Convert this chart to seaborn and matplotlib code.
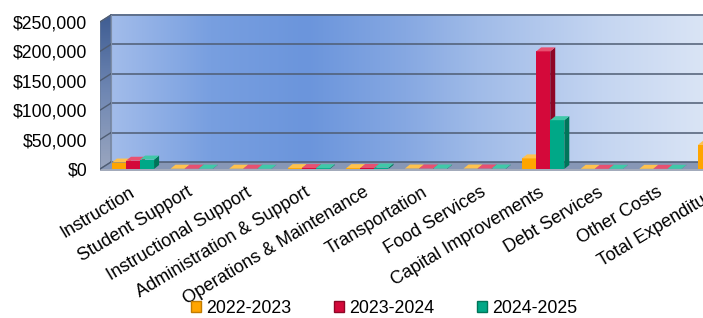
import numpy as np
import pandas as pd
import matplotlib
matplotlib.use("Agg")
import matplotlib.pyplot as plt
import seaborn as sns
from matplotlib.patches import Polygon, Patch, Rectangle
from matplotlib.colors import LinearSegmentedColormap, to_rgb

# data
categories = ['Instruction', 'Student Support', 'Instructional Support',
              'Administration & Support', 'Operations & Maintenance',
              'Transportation', 'Food Services', 'Capital Improvements',
              'Debt Services', 'Other Costs', 'Total Expenditure']
years = ['2022-2023', '2023-2024', '2024-2025']
fy_2022 = [11000, 500, 500, 1500, 1500, 800, 800, 18000, 300, 300, 41000]
fy_2023 = [14000, 500, 500, 1500, 1800, 800, 800, 200000, 300, 300, 232000]
fy_2024 = [16000, 500, 400, 1300, 2500, 800, 800, 83000, 300, 300, 105000]
yticks = [0, 50000, 100000, 150000, 200000, 250000]

colors = ['#FFA500', '#D4093A', '#00A887']
sides = ['#C27C00', '#8E0626', '#007559']
tops = ['#FFC24D', '#E85070', '#40C8A8']

df = pd.DataFrame({
    'Category': categories * 3,
    'Year': [y for y in years for _ in categories],
    'Amount': fy_2022 + fy_2023 + fy_2024,
})

plt.rcParams['font.family'] = ['Liberation Sans', 'DejaVu Sans']
fig = plt.figure(figsize=(7.03, 3.18), dpi=100)
W, H = 703, 318

# axes: left wall front edge at x=100px, category spacing ~58.6px, runs off the right edge
xmin, xmax = -0.563, 10.6
cat_px = 58.6
ax_left = 100
ax_w = (xmax - xmin) * cat_px
s = 1700.0  # value per pixel
ylo, yhi = -3400, 266000
ax_bottom_px = 171
ax_h = (yhi - ylo) / s
ax = fig.add_axes([ax_left / W, (H - ax_bottom_px) / H, ax_w / W, ax_h / H])
ax.set_facecolor('none')

# depth offsets (pixels -> data)
dxb, dyb = 11 / cat_px, 7 * s
dxs, dys = 5 / cat_px, 4 * s

# back wall gradient
cmap = LinearSegmentedColormap.from_list('wall', [
    (0.0, '#a2bcea'), (0.15, '#789fe0'), (0.3, '#6b95dc'), (0.45, '#86a8e2'),
    (0.56, '#a0bbe8'), (0.75, '#c4d5f1'), (0.9, '#d9e4f5'), (1.0, '#e2eaf7')])
grad = np.linspace(0, 1, 256).reshape(1, -1)
ax.imshow(grad, cmap=cmap, aspect='auto', zorder=0,
          extent=[xmin + dxb, xmax + dxb, dyb, 250000 + dyb])

# left side wall (vertical gradient, clipped)
side_poly = Polygon([(xmin, 0), (xmin + dxb, dyb), (xmin + dxb, 250000 + dyb), (xmin, 250000)],
                    closed=True, facecolor='none', edgecolor='#6b7d99', lw=0.8, zorder=1.2)
ax.add_patch(side_poly)
side_cmap = LinearSegmentedColormap.from_list('side', ['#9aa6bf', '#6f87b3', '#3e5c92'])
vgrad = np.linspace(0, 1, 256).reshape(-1, 1)
im = ax.imshow(vgrad, cmap=side_cmap, aspect='auto', origin='lower', zorder=1,
               extent=[xmin, xmin + dxb, 0, 250000 + dyb])
im.set_clip_path(side_poly)

# floor
ax.add_patch(Polygon([(xmin, 0), (xmax, 0), (xmax + dxb, dyb), (xmin + dxb, dyb)],
                     closed=True, facecolor='#8797b6', edgecolor='none', zorder=1))
ax.add_patch(Rectangle((xmin, -2600), xmax - xmin, 2600, facecolor='#a3abbb',
                       edgecolor='none', zorder=1))

# gridlines on back and side walls
for v in yticks:
    ax.plot([xmin + dxb, xmax + dxb], [v + dyb, v + dyb], color='#4f5d73', lw=1.1, zorder=1.5)
    ax.plot([xmin, xmin + dxb], [v, v + dyb], color='#4f5d73', lw=1.0, zorder=1.5)
ax.plot([xmin + dxb, xmin + dxb], [dyb, 250000 + dyb], color='#7e8ea8', lw=0.8, zorder=1.5)

sns.barplot(data=df, x='Category', y='Amount', hue='Year', order=categories,
            hue_order=years, palette=colors, saturation=1, width=0.72,
            legend=False, ax=ax)

bars = list(ax.patches)[-len(df):]
bars = [b for b in bars if isinstance(b, Rectangle) and b.get_width() < 1]
for b in bars:
    x0, w, h = b.get_x(), b.get_width(), b.get_height()
    fc = to_rgb(b.get_facecolor())
    k = min(range(3), key=lambda i: sum((a - c) ** 2 for a, c in zip(fc, to_rgb(colors[i]))))
    z = 3 + (x0 + 1) * 0.01
    b.set_zorder(z)
    b.set_edgecolor('none')
    ax.add_patch(Polygon([(x0 + w, 0), (x0 + w + dxs, dys), (x0 + w + dxs, h + dys), (x0 + w, h)],
                         closed=True, facecolor=sides[k], edgecolor='none', zorder=z))
    ax.add_patch(Polygon([(x0, h), (x0 + w, h), (x0 + w + dxs, h + dys), (x0 + dxs, h + dys)],
                         closed=True, facecolor=tops[k], edgecolor='none', zorder=z))

ax.set_xlim(xmin, xmax)
ax.set_ylim(ylo, yhi)
for sp in ax.spines.values():
    sp.set_visible(False)
ax.set_xlabel('')
ax.set_ylabel('')
ax.set_yticks(yticks)
ax.set_yticklabels(['${:,.0f}'.format(v) for v in yticks])
ax.tick_params(axis='y', length=0, pad=9, labelsize=12.7)
ax.set_xticks(range(len(categories)))
ax.set_xticklabels(categories, rotation=31, ha='right', va='center', rotation_mode='anchor')
ax.tick_params(axis='x', length=0, pad=14.5, labelsize=13)

handles = [Patch(facecolor=c, edgecolor=e, lw=1) for c, e in zip(colors, sides)]
fig.legend(handles, years, loc='center', bbox_to_anchor=(0.546, 0.031), ncol=3,
           frameon=False, fontsize=12.8, handlelength=0.6, handleheight=0.6,
           handletextpad=0.25, columnspacing=2.4, borderaxespad=0)

fig.savefig('out.png', dpi=100)
